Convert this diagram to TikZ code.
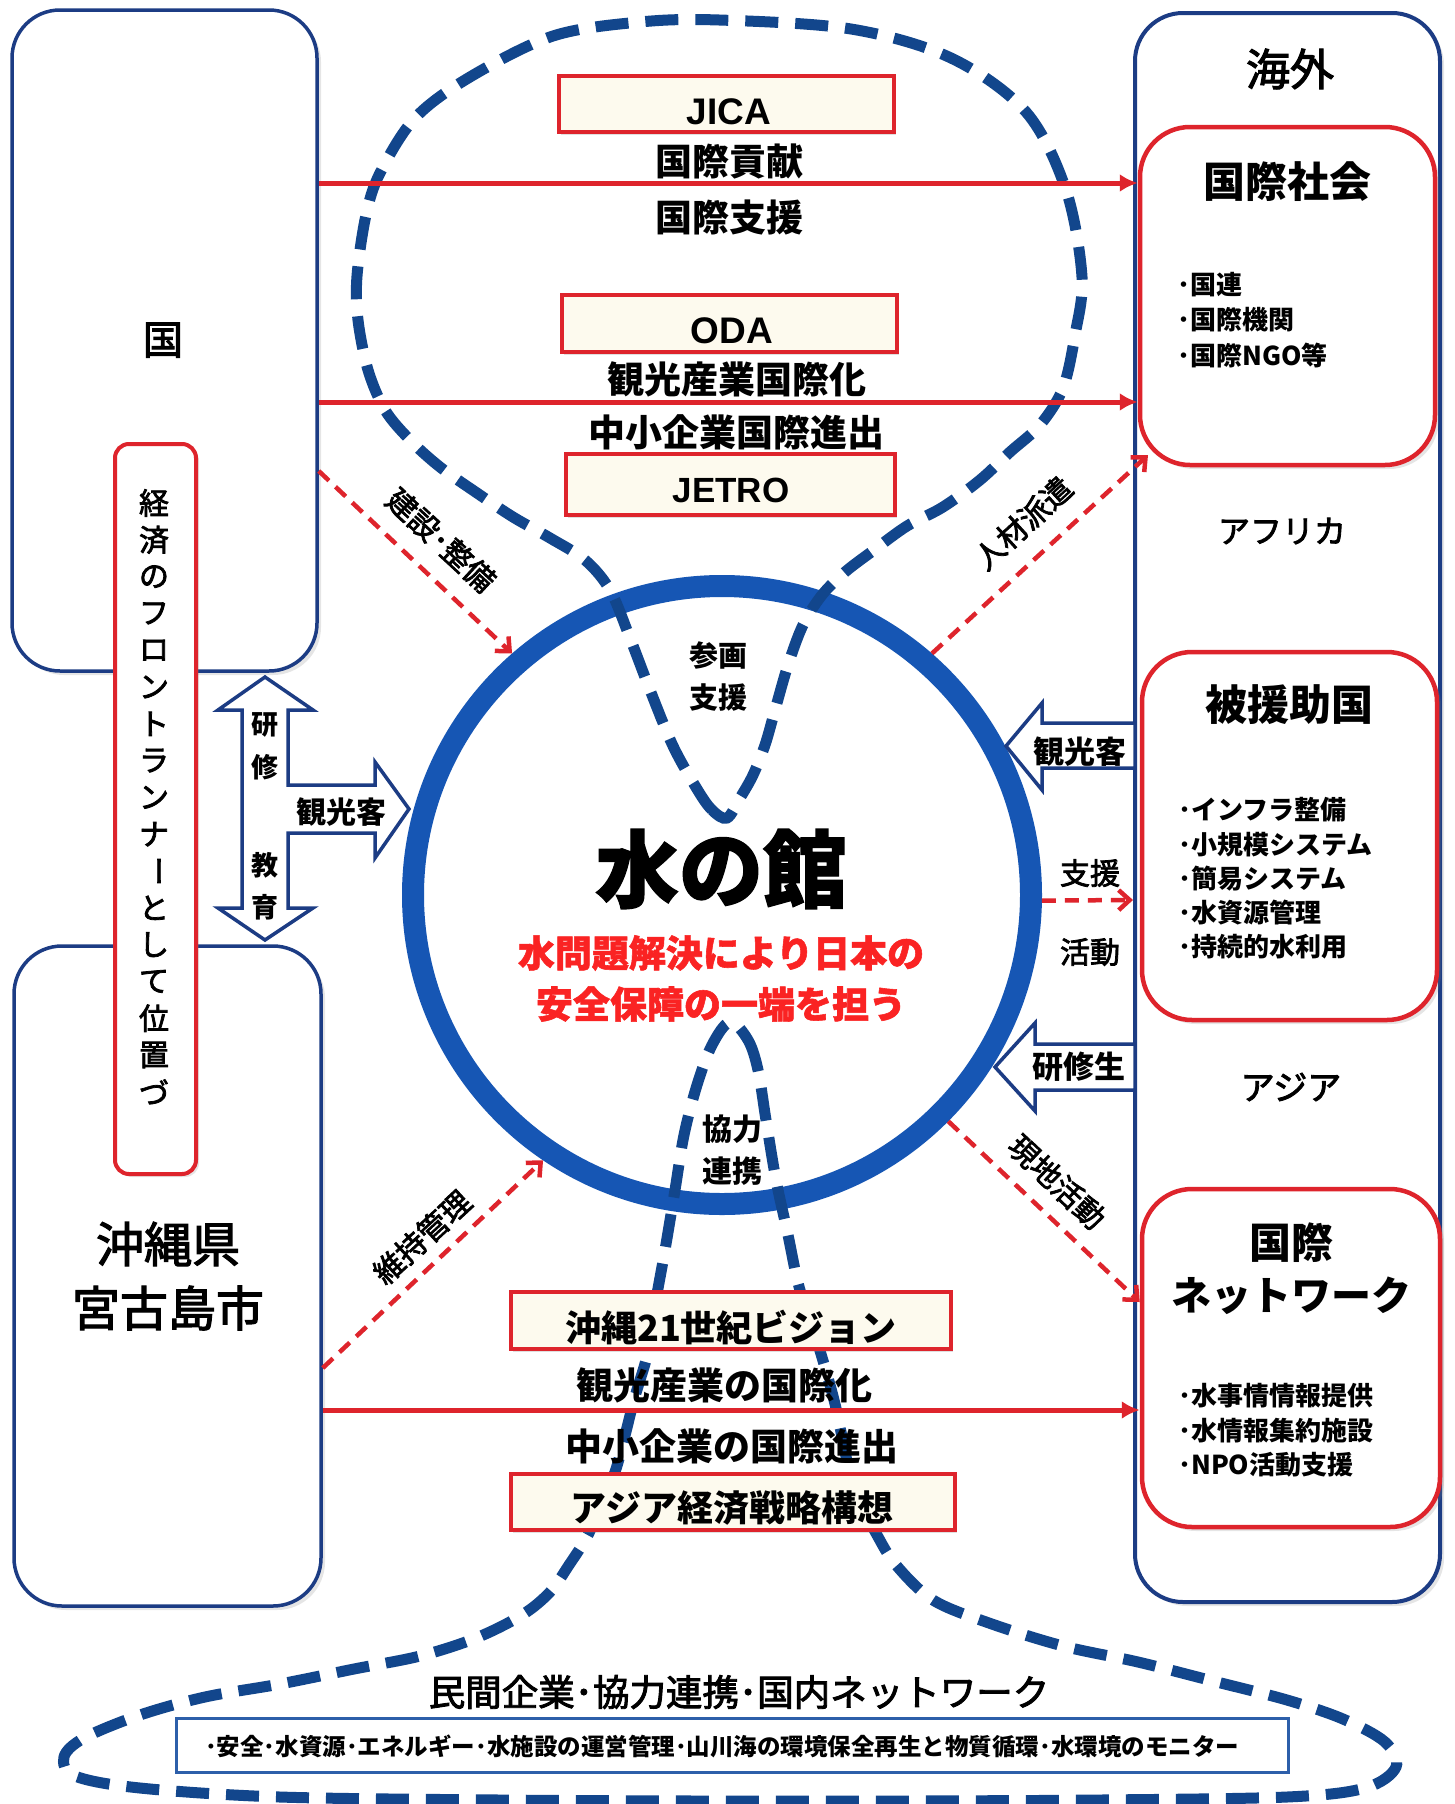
\documentclass[tikz,border=0pt]{standalone}
\usepackage{fontspec}
\setmainfont{Noto Sans CJK JP}
\newfontfamily\jpmed[FakeBold=2.5]{Noto Sans CJK JP}
\newfontfamily\jpheavy[BoldFeatures={FakeBold=1.5}]{Noto Sans CJK JP}
\newfontfamily\lat{Liberation Sans}
\usetikzlibrary{arrows.meta,shadows}
\definecolor{navy}{RGB}{28,60,132}
\definecolor{dashblue}{RGB}{18,70,140}
\definecolor{ringblue}{RGB}{22,86,180}
\definecolor{boxred}{RGB}{222,36,44}
\definecolor{txtred}{RGB}{250,35,35}
\definecolor{cream}{RGB}{253,250,238}
\definecolor{rectblue}{RGB}{45,95,170}
\newcommand{\fz}[1]{\fontsize{#1pt}{#1pt}\selectfont}
\tikzset{
 bluebox/.style={draw=navy, line width=3.5pt, fill=white, rounded corners=48pt,
   drop shadow={shadow xshift=4pt, shadow yshift=-4pt, opacity=0.2}},
 redround/.style={draw=boxred, line width=4.5pt, fill=white, rounded corners=50pt,
   drop shadow={shadow xshift=4pt, shadow yshift=-4pt, opacity=0.2}},
 labelbox/.style={draw=boxred, line width=4pt, fill=cream,
   drop shadow={shadow xshift=2pt, shadow yshift=-3pt, opacity=0.25}},
 loopline/.style={draw=dashblue, line width=11pt, dash pattern=on 33pt off 17pt},
 redarrow/.style={draw=boxred, line width=5pt, -{Latex[length=18pt,width=18pt]}},
 reddash/.style={draw=boxred, line width=4.5pt, dash pattern=on 14pt off 9pt,
   -{Straight Barb[length=11pt,width=20pt]}},
 blockarrow/.style={draw=navy, line width=3.5pt, fill=white, line join=miter},
 tb/.style={font={\fz{#1}\bfseries}},
 th/.style={font={\fz{#1}\jpheavy\bfseries}},
 tm/.style={font={\fz{#1}\jpmed}},
 tr/.style={font={\fz{#1}}},
}
\begin{document}
\begin{tikzpicture}[x=1pt,y=-1pt, every node/.style={inner sep=0pt}]
\fill[white] (0,0) rectangle (1455,1804);
\useasboundingbox (0,0) rectangle (1455,1804);

% big boxes
\node[bluebox, minimum width=305pt, minimum height=661pt] (kuni) at (164.5,340.5) {};
\node[bluebox, minimum width=307pt, minimum height=660pt] (okinawa) at (167.5,1276) {};
\node[bluebox, line width=4pt, minimum width=305pt, minimum height=1589pt] (kaigai) at (1287.5,807.5) {};
\node[redround, minimum width=295pt, minimum height=338pt] (shakai) at (1287.5,296) {};
\node[redround, minimum width=295pt, minimum height=368pt] (hienjo) at (1289.5,836) {};
\node[redround, minimum width=298pt, minimum height=338pt] (network) at (1291,1358) {};
\node[draw=boxred, line width=4pt, fill=white, rounded corners=14pt, minimum width=81pt, minimum height=730pt,
   drop shadow={shadow xshift=3pt, shadow yshift=-3pt, opacity=0.2}] (front) at (155.5,809) {};

% ring
\node[circle, draw=ringblue, line width=22pt, minimum size=618pt] (yakata) at (722,895) {};

% dashed loops
\draw[loopline] plot[smooth cycle, tension=0.55] coordinates {
 (727,818) (712,810) (697,789) (673,746) (650,690) (630,638) (610,590) (585,560) (550,538)
 (513,517) (477,493) (440,467) (410,440) (385,410) (368,370) (358,320) (357,276) (366,215)
 (380,173) (415,118) (470,77) (553,36) (640,22) (719,20) (851,29) (951,58) (1026,112) (1066,190) (1082,277)
 (1075,335) (1063,388) (1040,425) (1010,452) (980,480) (943,507) (907,526) (874,550)
 (845,572) (822,595) (803,625) (788,665) (775,710) (765,745) (753,775) (740,798)};
\draw[loopline] plot[smooth cycle, tension=0.55] coordinates {
 (730,1022) (748,1040) (758,1070) (766,1120) (776,1180) (788,1235) (798,1283) (810,1320)
 (821,1354) (835,1404) (849,1469) (862,1505) (877,1535) (896,1565) (933,1600) (989,1623)
 (1063,1646) (1138,1662) (1213,1681) (1287,1700) (1343,1719) (1385,1742) (1396,1767)
 (1365,1788) (1287,1797) (1100,1800) (900,1801) (700,1801) (500,1800) (280,1797) (140,1788)
 (75,1776) (64,1757) (84,1738) (140,1715) (205,1697) (280,1684) (354,1669) (420,1656)
 (476,1638) (522,1615) (550,1592) (569,1565) (588,1535) (600,1505) (616,1469) (634,1400)
 (648,1352) (656,1300) (665,1250) (675,1190) (684,1135) (697,1085) (712,1045)};

% label boxes
\node[labelbox, minimum width=335pt, minimum height=56pt] (jica) at (726.5,104) {};
\node[labelbox, minimum width=335pt, minimum height=57pt] (oda) at (729.5,323.5) {};
\node[labelbox, minimum width=329pt, minimum height=61pt] (jetro) at (730.5,484.5) {};
\node[labelbox, minimum width=440pt, minimum height=57pt] (vision) at (731,1320.5) {};
\node[labelbox, minimum width=444pt, minimum height=56pt] (asiabox) at (733,1502) {};
\node[draw=rectblue, line width=3pt, fill=white, minimum width=1112pt, minimum height=54pt] (minkan) at (732,1745) {};

% red arrows
\draw[redarrow] (kuni.east |- 0,183) -- (shakai.west |- 0,183);
\draw[redarrow] (kuni.east |- 0,402) -- (shakai.west |- 0,402);
\draw[redarrow] (okinawa.east |- 0,1410) -- (network.west |- 0,1410);

% red dashed arrows
\coordinate (jinzaiEnd) at (1148,455);
\draw[reddash] (kuni.east |- 0,471) -- (yakata.131);
\draw[reddash] (yakata.49) -- (jinzaiEnd);
\draw[reddash] (okinawa.east |- 0,1368) -- (yakata.236);
\draw[reddash] (yakata.315) -- (network.west |- 0,1302);
\draw[reddash] (yakata.359) -- (kaigai.west |- 0,900);

% block arrows
\draw[blockarrow] (265,677) -- (313,710) -- (288,710) -- (288,785) -- (375,785) -- (375,762)
  -- (409,809) -- (375,858) -- (375,833) -- (288,833) -- (288,908) -- (313,908) -- (265,940)
  -- (218,908) -- (242,908) -- (242,710) -- (218,710) -- cycle;
\draw[blockarrow] (1135,723) -- (1042,723) -- (1042,703) -- (1006,746) -- (1042,790) -- (1042,768) -- (1135,768) -- cycle;
\draw[blockarrow] (1135,1044) -- (1035,1044) -- (1035,1023) -- (995,1067) -- (1035,1111) -- (1035,1090) -- (1135,1090) -- cycle;

% texts: left
\node[tm=40] (tkuni) at (163,340) {国};
\node[tm=48] (tok1) at (168,1244) {沖縄県};
\node[tm=48] (tok2) at (168,1308) {宮古島市};
\foreach \c/\i in {経/0,済/1,の/2,フ/3,ロ/4,ン/5,ト/6,ラ/7,ン/8,ナ/9,と/11,し/12,て/13,位/14,置/15,づ/16}
  \node[tm=30] (v\i) at (154,503+36.8*\i) {\c};
\node[tm=30, rotate=-90] (v10) at (154,503+36.8*10) {ー};
\node[tb=27] (tk1) at (265,725) {研};
\node[tb=27] (tk2) at (265,767) {修};
\node[tb=27] (tk3) at (265,865) {教};
\node[tb=27] (tk4) at (265,907) {育};
\node[tb=30] (tkan1) at (341,812) {観光客};

% texts: center top
\node[font={\fz{37}\lat\bfseries}] (tjica) at (729,112) {JICA};
\node[tb=37] (tc1) at (729,161) {国際貢献};
\node[tb=37] (tc2) at (729,217) {国際支援};
\node[font={\fz{37}\lat\bfseries}] (toda) at (732,331) {ODA};
\node[tb=37] (tc3) at (737,379) {観光産業国際化};
\node[tb=37] (tc4) at (736,432) {中小企業国際進出};
\node[font={\fz{35}\lat\bfseries}] (tjetro) at (731,490) {JETRO};

% ring texts
\node[tb=29] (tsan) at (718,655) {参画};
\node[tb=29] (tshi) at (718,697) {支援};
\node[th=84] (tmizu) at (721,869) {水の館};
\node[th=37, text=txtred] (tred1) at (721,953) {水問題解決により日本の};
\node[th=37, text=txtred] (tred2) at (721,1004) {安全保障の一端を担う};
\node[tb=30] (tkyo) at (732,1129) {協力};
\node[tb=30] (tren) at (732,1171) {連携};

% center bottom
\node[tb=36] (tvis) at (731,1327) {沖縄21世紀ビジョン};
\node[tb=37] (tc5) at (724,1385) {観光産業の国際化};
\node[tb=37] (tc6) at (732,1446) {中小企業の国際進出};
\node[tb=36] (tasia) at (732,1508) {アジア経済戦略構想};
\node[tm=36.5] (tmin) at (739,1692) {民間企業･協力連携･国内ネットワーク};
\node[tb=23.5] (tmin2) at (722,1746) {･安全･水資源･エネルギー･水施設の運営管理･山川海の環境保全再生と物質循環･水環境のモニター};

% diagonal labels
\node[tm=30, rotate=-42.7] (tken) at (441,540) {建設･整備};
\node[tm=30, rotate=42.4] (tjin) at (1023,523) {人材派遣};
\node[tm=30, rotate=42.7] (tiji) at (422,1237) {維持管理};
\node[tm=30, rotate=-43.3] (tgen) at (1057,1182) {現地活動};

% right side texts
\node[tm=44] (tkai) at (1290,69) {海外};
\node[tb=42] (tsha) at (1287,182) {国際社会};
\node[tb=26, anchor=west] (s1) at (1177,285) {･国連};
\node[tb=26, anchor=west] (s2) at (1177,320) {･国際機関};
\node[tb=26, anchor=west] (s3) at (1177,355) {･国際NGO等};
\node[tm=32] (tafr) at (1282,531) {アフリカ};
\node[tb=42] (thi) at (1289,705) {被援助国};
\node[tb=26, anchor=west] (h1) at (1178,810) {･インフラ整備};
\node[tb=26, anchor=west] (h2) at (1178,845) {･小規模システム};
\node[tb=26, anchor=west] (h3) at (1178,879) {･簡易システム};
\node[tb=26, anchor=west] (h4) at (1178,913) {･水資源管理};
\node[tb=26, anchor=west] (h5) at (1178,947) {･持続的水利用};
\node[tm=34] (tasj) at (1291,1087) {アジア};
\node[tb=42] (tn1) at (1291,1243) {国際};
\node[tb=40] (tn2) at (1291,1296) {ネットワーク};
\node[tb=26, anchor=west] (n1) at (1178,1396) {･水事情情報提供};
\node[tb=26, anchor=west] (n2) at (1178,1431) {･水情報集約施設};
\node[tb=26, anchor=west] (n3) at (1178,1465) {･NPO活動支援};
\node[tb=31] (tkan2) at (1080,752) {観光客};
\node[tb=31] (tken2) at (1079,1067) {研修生};
\node[tm=30] (tshien) at (1090,873) {支援};
\node[tm=30] (tkatsu) at (1090,952) {活動};
\end{tikzpicture}
\end{document}
